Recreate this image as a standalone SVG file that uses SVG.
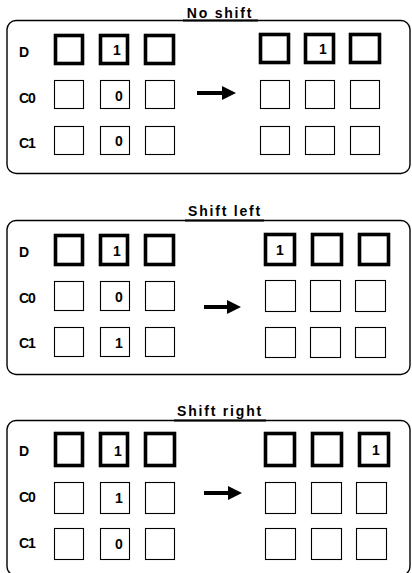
<svg xmlns="http://www.w3.org/2000/svg" width="412" height="573" viewBox="0 0 412 573">
<defs>
<style>
.frame{fill:none;stroke:#000;stroke-width:1.4}
.thick{fill:#fff;stroke:#000;stroke-width:3.6}
.thin{fill:#fff;stroke:#000;stroke-width:1.1}
.title{font-family:"Liberation Sans",Arial,sans-serif;font-weight:bold;font-size:14px;letter-spacing:1.8px;text-anchor:middle}
.lbl{font-family:"Liberation Sans",Arial,sans-serif;font-weight:bold;font-size:14px;letter-spacing:-1.2px}
.dig{font-family:"Liberation Sans",Arial,sans-serif;font-weight:bold;font-size:14px;text-anchor:middle}
.shaft{stroke:#000;stroke-width:4;fill:none}
</style>
<marker id="ah" markerWidth="3.5" markerHeight="3.5" refX="0" refY="1.75" orient="auto" markerUnits="strokeWidth">
<path d="M0,0 L3.5,1.75 L0,3.5 z" fill="#000"/>
</marker>
</defs>
<rect width="412" height="573" fill="#fff"/>

<g id="panel-no-shift">
<rect class="frame" x="7" y="20.5" width="403" height="153" rx="9"/>
<text class="title" x="220" y="18">No shift</text>
<line x1="183" y1="20.5" x2="258" y2="20.5" stroke="#000" stroke-width="1.8"/>
<g id="p1-labels">
<text class="lbl" x="19" y="57">D</text>
<text class="lbl" x="19" y="103">C0</text>
<text class="lbl" x="19" y="148">C1</text>
</g>
<g id="p1-before">
<rect class="thick" x="55.5" y="35.5" width="27" height="28"/>
<rect class="thick" x="100.5" y="35.5" width="27" height="28"/>
<rect class="thick" x="145.5" y="35.5" width="28" height="28"/>
<text class="dig" x="117" y="55">1</text>
<rect class="thin" x="54.5" y="80.5" width="29" height="28"/>
<rect class="thin" x="100.5" y="80.5" width="29" height="28"/>
<rect class="thin" x="145.5" y="80.5" width="29" height="28"/>
<text class="dig" x="119" y="101">0</text>
<rect class="thin" x="54.5" y="126.5" width="29" height="28"/>
<rect class="thin" x="100.5" y="126.5" width="29" height="28"/>
<rect class="thin" x="145.5" y="126.5" width="29" height="28"/>
<text class="dig" x="119" y="146">0</text>
</g>
<g id="p1-after">
<rect class="thick" x="260.5" y="34.5" width="28" height="28"/>
<rect class="thick" x="305.5" y="34.5" width="28" height="28"/>
<rect class="thick" x="350.5" y="34.5" width="29" height="28"/>
<text class="dig" x="323" y="54">1</text>
<rect class="thin" x="260.5" y="80.5" width="29" height="28"/>
<rect class="thin" x="305.5" y="80.5" width="29" height="28"/>
<rect class="thin" x="350.5" y="80.5" width="29" height="28"/>
<rect class="thin" x="260.5" y="126.5" width="29" height="28"/>
<rect class="thin" x="305.5" y="126.5" width="29" height="28"/>
<rect class="thin" x="350.5" y="126.5" width="29" height="28"/>
</g>
</g>

<g id="panel-shift-left">
<rect class="frame" x="7" y="220.5" width="403" height="154" rx="9"/>
<text class="title" x="225" y="216">Shift left</text>
<line x1="185" y1="220.5" x2="264" y2="220.5" stroke="#000" stroke-width="1.8"/>
<g id="p2-labels">
<text class="lbl" x="19" y="257">D</text>
<text class="lbl" x="19" y="303">C0</text>
<text class="lbl" x="19" y="348">C1</text>
</g>
<g id="p2-before">
<rect class="thick" x="55.5" y="235.5" width="27" height="29"/>
<rect class="thick" x="100.5" y="235.5" width="27" height="29"/>
<rect class="thick" x="145.5" y="235.5" width="28" height="29"/>
<text class="dig" x="117" y="256">1</text>
<rect class="thin" x="54.5" y="281.5" width="29" height="29"/>
<rect class="thin" x="100.5" y="281.5" width="29" height="29"/>
<rect class="thin" x="145.5" y="281.5" width="29" height="29"/>
<text class="dig" x="119" y="302">0</text>
<rect class="thin" x="54.5" y="327.5" width="29" height="29"/>
<rect class="thin" x="100.5" y="327.5" width="29" height="29"/>
<rect class="thin" x="145.5" y="327.5" width="29" height="29"/>
<text class="dig" x="119" y="348">1</text>
</g>
<g id="p2-after">
<rect class="thick" x="265.5" y="234.5" width="29" height="30"/>
<rect class="thick" x="312.5" y="234.5" width="29" height="30"/>
<rect class="thick" x="359.5" y="234.5" width="29" height="30"/>
<text class="dig" x="280" y="255">1</text>
<rect class="thin" x="265.5" y="280.5" width="30" height="31"/>
<rect class="thin" x="310.5" y="280.5" width="30" height="31"/>
<rect class="thin" x="355.5" y="280.5" width="30" height="31"/>
<rect class="thin" x="265.5" y="327.5" width="30" height="30"/>
<rect class="thin" x="310.5" y="327.5" width="30" height="30"/>
<rect class="thin" x="355.5" y="327.5" width="30" height="30"/>
</g>
</g>

<g id="panel-shift-right">
<rect class="frame" x="7" y="420.5" width="403" height="155" rx="9"/>
<text class="title" x="220" y="416">Shift right</text>
<line x1="174" y1="420.5" x2="266" y2="420.5" stroke="#000" stroke-width="1.8"/>
<g id="p3-labels">
<text class="lbl" x="19" y="456">D</text>
<text class="lbl" x="19" y="502">C0</text>
<text class="lbl" x="19" y="548">C1</text>
</g>
<g id="p3-before">
<rect class="thick" x="55.5" y="433.5" width="27" height="32"/>
<rect class="thick" x="100.5" y="433.5" width="27" height="32"/>
<rect class="thick" x="145.5" y="433.5" width="29" height="32"/>
<text class="dig" x="118" y="456">1</text>
<rect class="thin" x="54.5" y="482.5" width="29" height="31"/>
<rect class="thin" x="100.5" y="482.5" width="29" height="31"/>
<rect class="thin" x="145.5" y="482.5" width="29" height="31"/>
<text class="dig" x="119" y="503">1</text>
<rect class="thin" x="54.5" y="528.5" width="29" height="31"/>
<rect class="thin" x="100.5" y="528.5" width="29" height="31"/>
<rect class="thin" x="145.5" y="528.5" width="29" height="31"/>
<text class="dig" x="119" y="549">0</text>
</g>
<g id="p3-after">
<rect class="thick" x="265.5" y="433.5" width="29" height="32"/>
<rect class="thick" x="312.5" y="433.5" width="29" height="32"/>
<rect class="thick" x="359.5" y="433.5" width="29" height="32"/>
<text class="dig" x="376" y="455">1</text>
<rect class="thin" x="265.5" y="482.5" width="30" height="31"/>
<rect class="thin" x="311.5" y="482.5" width="30" height="31"/>
<rect class="thin" x="356.5" y="482.5" width="30" height="31"/>
<rect class="thin" x="265.5" y="528.5" width="30" height="31"/>
<rect class="thin" x="311.5" y="528.5" width="30" height="31"/>
<rect class="thin" x="356.5" y="528.5" width="30" height="31"/>
</g>
</g>

<g id="connectors">
<line class="shaft" x1="197" y1="93" x2="222" y2="93" marker-end="url(#ah)"/>
<line class="shaft" x1="204" y1="307" x2="227" y2="307" marker-end="url(#ah)"/>
<line class="shaft" x1="204" y1="493" x2="228" y2="493" marker-end="url(#ah)"/>
</g>
</svg>
